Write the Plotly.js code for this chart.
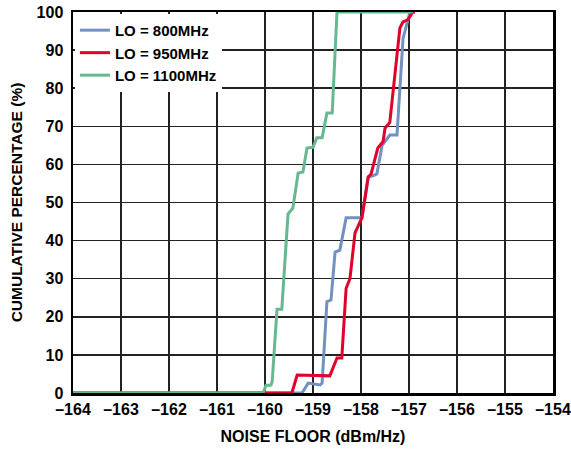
<!DOCTYPE html>
<html>
<head>
<meta charset="utf-8">
<script src="https://cdn.plot.ly/plotly-3.0.1.min.js"></script>
<style>html,body{margin:0;padding:0;background:#fff;}#chart{width:571px;height:452px;}</style>
</head>
<body>
<div id="chart"></div>
<script>
// Noise floor (dBm/Hz) vs cumulative percentage (%)
var lo800_x = [-164, -159.23, -159.10, -158.85, -158.81, -158.71, -158.625, -158.54, -158.44, -158.31, -157.98, -157.85, -157.75, -157.67, -157.56, -157.40, -157.25, -157.125, -156.98, -156.875];
var lo800_y = [0, 0, 2.6, 2.1, 2.6, 24, 24.4, 37, 37.5, 46, 46, 56.7, 57, 57.5, 65, 67.7, 67.7, 93, 100, 100];

var lo950_x = [-164, -159.44, -159.33, -158.65, -158.5, -158.40, -158.31, -158.23, -158.125, -158.02, -157.98, -157.85, -157.79, -157.65, -157.54, -157.5, -157.4, -157.19, -157.125, -157.02, -156.92, -156.875];
var lo950_y = [0, 0, 4.7, 4.5, 9.2, 9.2, 27.5, 30, 42, 45, 46, 56.7, 57.5, 64.3, 66, 69.5, 71, 95.8, 97.4, 98, 100, 100];

var lo1100_x = [-164, -160.04, -159.98, -159.875, -159.85, -159.75, -159.65, -159.52, -159.42, -159.31, -159.21, -159.125, -159.0, -158.92, -158.81, -158.71, -158.6, -158.5, -156.92];
var lo1100_y = [0, 0, 2, 2.1, 3, 22, 22, 47, 48.5, 57.7, 58, 64.3, 64.5, 67, 67, 73.5, 73.5, 100, 100];

var xTickVals = [-164, -163, -162, -161, -160, -159, -158, -157, -156, -155, -154];
var xTickText = ["\u2013164", "\u2013163", "\u2013162", "\u2013161", "\u2013160", "\u2013159", "\u2013158", "\u2013157", "\u2013156", "\u2013155", "\u2013154"];
var yTickVals = [0, 10, 20, 30, 40, 50, 60, 70, 80, 90, 100];
var seriesNames = ["LO = 800MHz", "LO = 950MHz", "LO = 1100MHz"];

var traces = [
  {x: lo800_x, y: lo800_y, name: seriesNames[0], mode: "lines", line: {color: "#7290c0", width: 3}},
  {x: lo950_x, y: lo950_y, name: seriesNames[1], mode: "lines", line: {color: "#e2002b", width: 3}},
  {x: lo1100_x, y: lo1100_y, name: seriesNames[2], mode: "lines", line: {color: "#66b890", width: 3}}
];

var FAM = "Liberation Sans, Arial, sans-serif";

var layout = {
  width: 571, height: 452,
  margin: {l: 73, r: 18, t: 12, b: 59},
  paper_bgcolor: "#fff", plot_bgcolor: "#fff",
  font: {family: FAM, size: 14, color: "#000"},
  showlegend: true,
  legend: {x: 0.004, y: 0.995, xanchor: "left", yanchor: "top", bgcolor: "#fff", borderwidth: 0,
           font: {family: FAM, size: 15, color: "#000", weight: "bold"},
           itemwidth: 30, tracegroupgap: 0},
  xaxis: {
    range: [-164, -154], tickmode: "array", tickvals: xTickVals, ticktext: xTickText,
    showgrid: true, gridcolor: "#222", gridwidth: 1.5, zeroline: false,
    showline: true, linecolor: "#000", linewidth: 2.5, mirror: true, ticks: "",
    tickfont: {family: FAM, size: 16, color: "#000", weight: "bold"},
    title: {text: "NOISE FLOOR (dBm/Hz)", standoff: 14, font: {family: FAM, size: 16, color: "#000", weight: "bold"}}
  },
  yaxis: {
    range: [0, 100], tickmode: "array", tickvals: yTickVals,
    showgrid: true, gridcolor: "#222", gridwidth: 1.5, zeroline: false,
    showline: true, linecolor: "#000", linewidth: 2.5, mirror: true, ticks: "",
    ticklabelstandoff: 4,
    tickfont: {family: FAM, size: 16, color: "#000", weight: "bold"},
    title: {text: "CUMULATIVE PERCENTAGE (%)", standoff: 10, font: {family: FAM, size: 15.5, color: "#000", weight: "bold"}}
  }
};

Plotly.newPlot("chart", traces, layout, {displayModeBar: false, staticPlot: true});
</script>
</body>
</html>
